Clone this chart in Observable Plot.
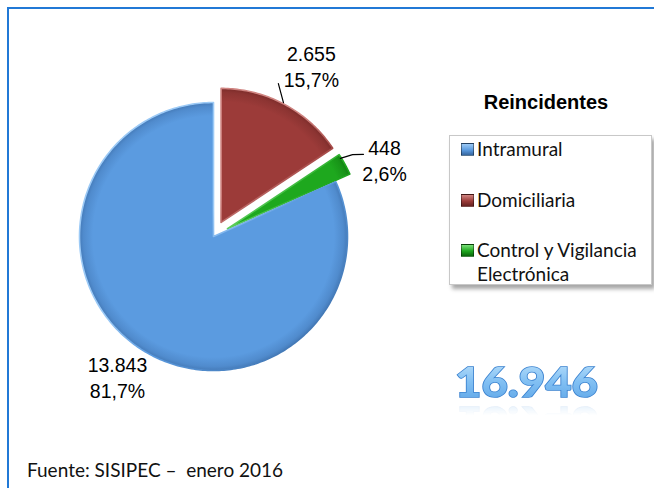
<!DOCTYPE html>
<html><head><meta charset="utf-8">
<script src="https://cdn.jsdelivr.net/npm/d3@7"></script>
<script src="https://cdn.jsdelivr.net/npm/@observablehq/plot@0.6"></script>
<style>
body{margin:0;background:#fff;}
#wrap{position:relative;width:654px;height:488px;overflow:hidden;background:#fff;font-family:"Liberation Sans",Arial,sans-serif;}
#frame{position:absolute;left:7px;top:7px;width:700px;height:600px;border-top:2px solid #2179d6;border-left:2px solid #2179d6;}
#plot{position:absolute;left:0;top:0;}
#legend-title{position:absolute;left:446px;width:200px;top:90px;text-align:center;font-weight:bold;font-size:20px;line-height:24px;}
#legend{position:absolute;left:449px;top:135px;width:201px;height:148px;border:1px solid #c8c8c8;box-shadow:3px 4px 4px rgba(0,0,0,0.35);background:#fff;}
.item{position:absolute;left:27px;font-family:Lato,"Open Sans",sans-serif;font-size:19px;line-height:24px;color:#111;width:180px;white-space:nowrap;}
.sw{position:absolute;left:-16px;top:6px;width:11px;height:11px;border:0.5px solid rgba(0,0,0,0.4);}
#caption{position:absolute;left:27px;top:458px;font-family:Lato,"Open Sans",sans-serif;font-size:19px;white-space:pre;color:#111;}
#big{position:absolute;left:450px;top:355px;overflow:visible;-webkit-box-reflect: below -18px linear-gradient(to bottom, transparent 60%, rgba(255,255,255,0.35) 100%);}
</style>
</head><body>
<div id="wrap">
  <div id="frame"></div>
  <div id="plot"></div>
  <div id="legend-title">Reincidentes</div>
  <div id="legend"></div>
  <svg id="big" width="170" height="56"></svg>
  <div id="caption"></div>
</div>
<script>
// ---- data ----
const categories = ["Intramural", "Domiciliaria", "Control y Vigilancia Electrónica"];
const legendLines = [["Intramural"], ["Domiciliaria"], ["Control y Vigilancia", "Electrónica"]];
const values = [13843, 2655, 448];
const pieOrder = ["Domiciliaria", "Control y Vigilancia Electrónica", "Intramural"];
const titleText = "Reincidentes";
const captionText = "Fuente: SISIPEC –  enero 2016";

// ---- styles / layout ----
const colors = {"Intramural": "#5b9be0", "Domiciliaria": "#9c3b39", "Control y Vigilancia Electrónica": "#1ea81e"};
const darks = {"Intramural": "#36669f", "Domiciliaria": "#662220", "Control y Vigilancia Electrónica": "#0b660b"};
const lights = {"Intramural": "#9ccaf6", "Domiciliaria": "#d08582", "Control y Vigilancia Electrónica": "#7ae07a"};
const R = 134;
const explode = {"Intramural": 0, "Domiciliaria": 16, "Control y Vigilancia Electrónica": 16};
const labelPolar = {"Intramural": [214.4, 170], "Domiciliaria": [29.8, 197], "Control y Vigilancia Electrónica": [65.8, 187.5]};
const leaderPolar = {
  "Domiciliaria": [[27.6, 151], [23, 166]],
  "Control y Vigilancia Electrónica": [[58.4, 149], [59.5, 161.4], [61.3, 171]]
};

const loc = d3.formatLocale({decimal: ",", thousands: ".", grouping: [3], currency: ["$", ""]});
const fmtN = loc.format(",d");
const fmtP = v => loc.format(".1f")(v * 100) + "%";

const total = d3.sum(values);
const valueOf = c => values[categories.indexOf(c)];
const arcs = d3.pie().sort(null).startAngle(0).endAngle(2 * Math.PI).value(c => valueOf(c))(pieOrder);
const rad = a => a * Math.PI / 180;
const polar = (a, r) => [r * Math.sin(a), -r * Math.cos(a)];

const slices = arcs.map(a => {
  const cat = a.data;
  const mid = (a.startAngle + a.endAngle) / 2;
  const [ox, oy] = polar(mid, explode[cat]);
  const pts = [{x: ox, y: oy}];
  const n = Math.max(4, Math.ceil((a.endAngle - a.startAngle) / rad(1)));
  for (let i = 0; i <= n; i++) {
    const t = a.startAngle + (a.endAngle - a.startAngle) * i / n;
    const [px, py] = polar(t, R);
    pts.push({x: ox + px, y: oy + py});
  }
  pts.push({x: ox, y: oy});
  return {cat, pts, ox, oy};
});

const labels = categories.map(c => {
  const [a, r] = labelPolar[c];
  const [x, y] = polar(rad(a), r);
  const v = valueOf(c);
  return {x, y, text: fmtN(v) + "\n" + fmtP(v / total)};
});

const leaderSets = Object.entries(leaderPolar).map(([c, ps]) =>
  ps.map(([a, r]) => { const [x, y] = polar(rad(a), r); return {x, y}; }));

const marks = slices.map((s, i) => Plot.line(s.pts, {
  x: "x", y: "y", fill: `url(#grad${i})`, stroke: `url(#edge${i})`, strokeWidth: 1.6, curve: "linear"
}));
leaderSets.forEach(pts => marks.push(Plot.line(pts, {x: "x", y: "y", stroke: "black", strokeWidth: 1.2, curve: "linear"})));
marks.push(Plot.text(labels, {x: "x", y: "y", text: "text", fontSize: 19.5, lineHeight: 1.33, fill: "#000",
  fontFamily: "Liberation Sans, Arial, sans-serif", textAnchor: "middle"}));

const plot = Plot.plot({
  width: 654, height: 488, margin: 0,
  x: {domain: [-213, 441], range: [0, 654], axis: null},
  y: {domain: [-236, 252], range: [0, 488], axis: null},
  style: {background: "transparent", overflow: "visible"},
  marks
});
document.getElementById("plot").appendChild(plot);

// gradients & shadow
const xs = plot.scale("x"), ys = plot.scale("y");
const defs = d3.select(plot).insert("defs", ":first-child");
slices.forEach((s, i) => {
  const cx = xs.apply(s.ox), cy = ys.apply(s.oy);
  const g = defs.append("radialGradient").attr("id", `grad${i}`).attr("gradientUnits", "userSpaceOnUse")
    .attr("cx", cx).attr("cy", cy).attr("r", R);
  g.append("stop").attr("offset", "0").attr("stop-color", colors[s.cat]);
  g.append("stop").attr("offset", "0.9").attr("stop-color", colors[s.cat]);
  g.append("stop").attr("offset", "0.97").attr("stop-color", d3.interpolateRgb(colors[s.cat], darks[s.cat])(0.3));
  g.append("stop").attr("offset", "1").attr("stop-color", d3.interpolateRgb(colors[s.cat], darks[s.cat])(0.6));
  const e = defs.append("linearGradient").attr("id", `edge${i}`).attr("gradientUnits", "userSpaceOnUse")
    .attr("x1", cx - R).attr("y1", cy - R).attr("x2", cx + R).attr("y2", cy + R);
  e.append("stop").attr("offset", "0").attr("stop-color", lights[s.cat]);
  e.append("stop").attr("offset", "0.45").attr("stop-color", lights[s.cat]);
  e.append("stop").attr("offset", "0.6").attr("stop-color", colors[s.cat]);
  e.append("stop").attr("offset", "1").attr("stop-color", darks[s.cat]);
});
const f = defs.append("filter").attr("id", "shadow").attr("x", "-20%").attr("y", "-20%").attr("width", "140%").attr("height", "140%");
f.append("feDropShadow").attr("dx", 2).attr("dy", 3).attr("stdDeviation", 2.5).attr("flood-color", "#000").attr("flood-opacity", 0.35);
d3.select(plot).selectAll('g[aria-label="line"]').filter(function() {
  const p = d3.select(this).select("path");
  return p.attr("fill") !== "none" && p.attr("fill") !== null;
}).attr("filter", "url(#shadow)");

// legend
const leg = d3.select("#legend");
categories.forEach((c, i) => {
  const it = leg.append("div").attr("class", "item").style("top", (1 + i * 50.5) + "px");
  it.append("div").attr("class", "sw")
    .style("background", `linear-gradient(180deg, ${lights[c]} 0%, ${colors[c]} 55%, ${darks[c]} 100%)`);
  it.html(it.html() + legendLines[i].join("<br>"));
});

// total
const big = d3.select("#big");
const bd = big.append("defs");
const tg = bd.append("linearGradient").attr("id", "tg").attr("x1", 0).attr("y1", 0).attr("x2", 0).attr("y2", 1);
tg.append("stop").attr("offset", 0).attr("stop-color", "#c2e4fc");
tg.append("stop").attr("offset", 0.5).attr("stop-color", "#82c0f3");
tg.append("stop").attr("offset", 1).attr("stop-color", "#5aa3e6");
big.append("text").attr("x", 5).attr("y", 42)
  .attr("font-family", "Lato, sans-serif").attr("font-weight", "900").attr("font-size", 41)
  .attr("textLength", 143).attr("lengthAdjust", "spacingAndGlyphs")
  .attr("fill", "url(#tg)").attr("stroke", "#3a82d0").attr("stroke-width", 1.6).attr("paint-order", "stroke")
  .text(fmtN(total));

d3.select("#legend-title").text(titleText);
d3.select("#caption").text(captionText);
</script>
</body></html>
